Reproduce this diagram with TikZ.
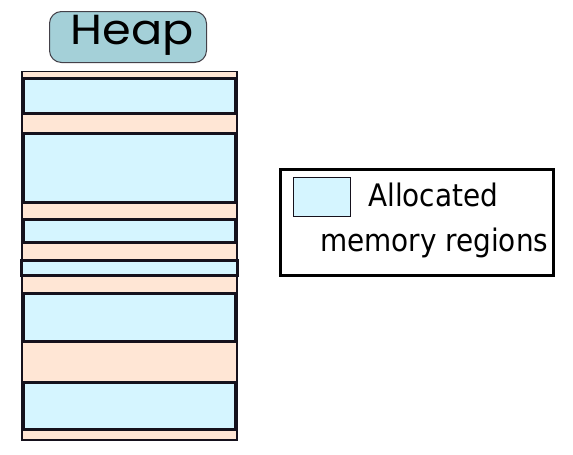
\documentclass[tikz,border=0pt]{standalone}
\usepackage{fontspec}
\newfontfamily\heapfont{Poppins}
\newfontfamily\legfont{DejaVu Sans Condensed}
\definecolor{peach}{HTML}{FFE6D5}
\definecolor{alloc}{HTML}{D5F5FF}
\definecolor{heapfill}{HTML}{A4D0D8}
\definecolor{ink}{HTML}{15111C}
\begin{document}
\begin{tikzpicture}[x=1pt,y=-1pt,
  freebox/.style={draw=ink,fill=peach,line width=1.5pt,minimum width=215pt,minimum height=368.5pt,inner sep=0pt,outer sep=0pt},
  blk/.style={draw=ink,fill=alloc,line width=3pt,minimum width=212pt,inner sep=0pt,outer sep=0pt},
  lbl/.style={draw=ink!80,fill=heapfill,line width=1pt,rounded corners=12pt,minimum width=157pt,minimum height=51pt,inner sep=0pt},
  legbox/.style={draw=black,line width=3pt,minimum width=273pt,minimum height=106pt,inner sep=0pt,outer sep=0pt},
  swatch/.style={draw=ink,fill=alloc,line width=1.3pt,minimum width=56.6pt,minimum height=38.6pt,inner sep=0pt,outer sep=0pt},
  legtext/.style={anchor=base west,inner sep=0pt,font=\legfont\fontsize{31}{31}\selectfont}
]
\useasboundingbox (0,0) rectangle (573,455);
\node[lbl] (heap) at (128,37) {};
\node[anchor=base,inner sep=0pt,xscale=1.1,font=\heapfont\fontsize{42}{42}\selectfont] (heaptext) at (132,44) {Heap};
\node[freebox] (col) at (129.5,255.75) {};
\node[blk,minimum height=35pt] (b1) at (129.5,96) {};
\node[blk,minimum height=68.5pt] (b2) at (129.5,167.75) {};
\node[blk,minimum height=23pt] (b3) at (129.5,231) {};
\node[blk,minimum height=15pt,minimum width=216pt] (b4) at (129.5,267.5) {};
\node[blk,minimum height=48.4pt] (b5) at (129.5,317.5) {};
\node[blk,minimum height=47pt] (b6) at (129.5,405.8) {};
\node[legbox] (leg) at (417,222.5) {};
\node[swatch] (sw) at (322,197) {};
\node[legtext] (t1) at (368,206) {Allocated};
\node[legtext] (t2) at (320,251) {memory regions};
\end{tikzpicture}
\end{document}
